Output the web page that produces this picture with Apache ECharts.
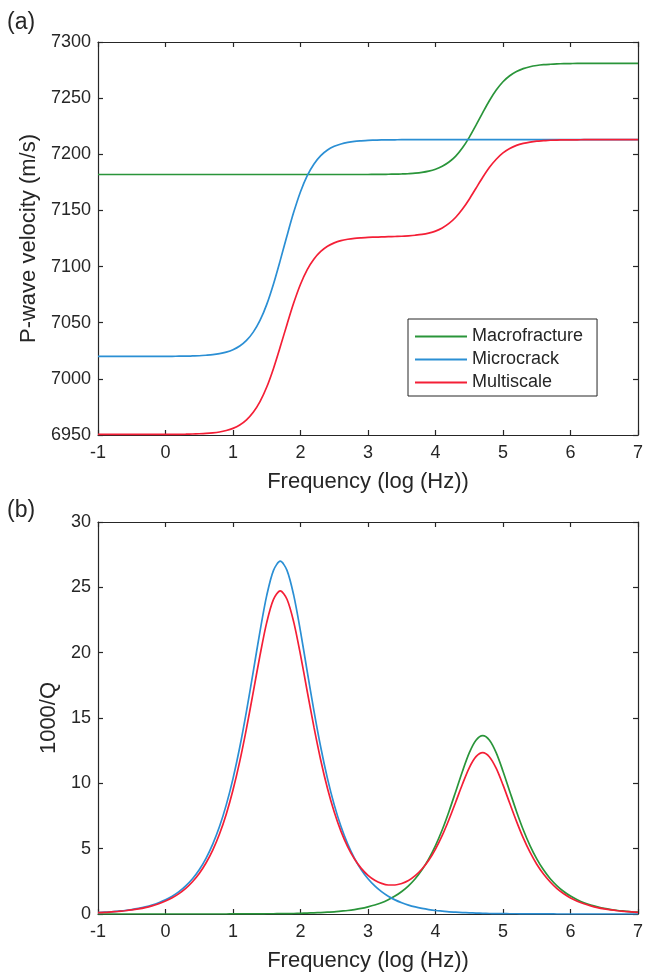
<!DOCTYPE html>
<html>
<head>
<meta charset="utf-8">
<script src="https://cdn.jsdelivr.net/npm/echarts@6/dist/echarts.min.js"></script>
<style>
  html, body { margin: 0; padding: 0; background: #fff; }
  #chart { width: 646px; height: 974px; }
</style>
</head>
<body>
<div id="chart"></div>
<script>
// Frequency samples, log10(Hz)
const freq = [
  -1.0, -0.9, -0.8, -0.7, -0.6, -0.5, -0.4, -0.3, -0.2, -0.1,
  0.0, 0.1, 0.2, 0.3, 0.4, 0.5, 0.6, 0.7, 0.8, 0.9,
  1.0, 1.1, 1.2, 1.3, 1.4, 1.5, 1.6, 1.7, 1.8, 1.9,
  2.0, 2.1, 2.2, 2.3, 2.4, 2.5, 2.6, 2.7, 2.8, 2.9,
  3.0, 3.1, 3.2, 3.3, 3.4, 3.5, 3.6, 3.7, 3.8, 3.9,
  4.0, 4.1, 4.2, 4.3, 4.4, 4.5, 4.6, 4.7, 4.8, 4.9,
  5.0, 5.1, 5.2, 5.3, 5.4, 5.5, 5.6, 5.7, 5.8, 5.9,
  6.0, 6.1, 6.2, 6.3, 6.4, 6.5, 6.6, 6.7, 6.8, 6.9,
  7.0
];

const seriesNames = ['Macrofracture', 'Microcrack', 'Multiscale'];

// (a) P-wave velocity, m/s
const velMacrofracture = [
  7182.0, 7182.0, 7182.0, 7182.0, 7182.0, 7182.0, 7182.0, 7182.0, 7182.0, 7182.0,
  7182.0, 7182.0, 7182.0, 7182.0, 7182.0, 7182.0, 7182.0, 7182.0, 7182.0, 7182.0,
  7182.0, 7182.0, 7182.0, 7182.0, 7182.0, 7182.0, 7182.0, 7182.0, 7182.0, 7182.0,
  7182.0, 7182.0, 7182.0, 7182.0, 7182.0, 7182.0, 7182.0, 7182.0, 7182.0, 7182.0,
  7182.0, 7182.1, 7182.1, 7182.2, 7182.3, 7182.5, 7182.8, 7183.2, 7183.9, 7185.0,
  7186.7, 7189.3, 7193.1, 7198.4, 7205.8, 7215.1, 7225.9, 7237.1, 7247.9, 7257.2,
  7264.6, 7269.9, 7273.7, 7276.3, 7278.0, 7279.1, 7279.8, 7280.2, 7280.5, 7280.7,
  7280.8, 7280.9, 7280.9, 7281.0, 7281.0, 7281.0, 7281.0, 7281.0, 7281.0, 7281.0,
  7281.0
];
const velMicrocrack = [
  7020.0, 7020.0, 7020.0, 7020.0, 7020.0, 7020.0, 7020.0, 7020.0, 7020.0, 7020.0,
  7020.1, 7020.1, 7020.2, 7020.2, 7020.4, 7020.6, 7021.0, 7021.5, 7022.4, 7023.8,
  7025.9, 7029.2, 7034.2, 7041.6, 7052.0, 7066.3, 7084.5, 7105.5, 7127.5, 7148.5,
  7166.7, 7181.0, 7191.4, 7198.8, 7203.8, 7207.1, 7209.2, 7210.6, 7211.5, 7212.0,
  7212.4, 7212.6, 7212.8, 7212.8, 7212.9, 7213.0, 7213.0, 7213.0, 7213.0, 7213.0,
  7213.0, 7213.0, 7213.0, 7213.0, 7213.0, 7213.0, 7213.0, 7213.0, 7213.0, 7213.0,
  7213.0, 7213.0, 7213.0, 7213.0, 7213.0, 7213.0, 7213.0, 7213.0, 7213.0, 7213.0,
  7213.0, 7213.0, 7213.0, 7213.0, 7213.0, 7213.0, 7213.0, 7213.0, 7213.0, 7213.0,
  7213.0
];
const velMultiscale = [
  6950.5, 6950.5, 6950.5, 6950.5, 6950.5, 6950.5, 6950.5, 6950.5, 6950.5, 6950.5,
  6950.6, 6950.6, 6950.6, 6950.7, 6950.9, 6951.1, 6951.4, 6951.9, 6952.7, 6954.0,
  6955.9, 6958.9, 6963.5, 6970.2, 6979.7, 6992.7, 7009.3, 7028.5, 7048.5, 7067.7,
  7084.3, 7097.3, 7106.8, 7113.5, 7118.1, 7121.1, 7123.1, 7124.3, 7125.1, 7125.6,
  7126.0, 7126.2, 7126.4, 7126.6, 7126.8, 7127.0, 7127.4, 7127.9, 7128.6, 7129.8,
  7131.6, 7134.4, 7138.4, 7143.9, 7151.2, 7160.0, 7169.8, 7179.5, 7188.4, 7195.6,
  7201.2, 7205.1, 7207.9, 7209.7, 7210.9, 7211.7, 7212.1, 7212.5, 7212.7, 7212.8,
  7212.9, 7212.9, 7213.0, 7213.0, 7213.0, 7213.0, 7213.0, 7213.0, 7213.0, 7213.0,
  7213.0
];

// (b) attenuation, 1000/Q
const qMacrofracture = [
  0.00, 0.00, 0.00, 0.00, 0.00, 0.00, 0.00, 0.00, 0.00, 0.00,
  0.00, 0.00, 0.00, 0.00, 0.00, 0.00, 0.00, 0.00, 0.00, 0.00,
  0.01, 0.01, 0.01, 0.01, 0.01, 0.02, 0.02, 0.03, 0.03, 0.04,
  0.05, 0.07, 0.09, 0.11, 0.14, 0.17, 0.22, 0.27, 0.34, 0.43,
  0.55, 0.69, 0.86, 1.09, 1.37, 1.72, 2.16, 2.70, 3.38, 4.22,
  5.24, 6.45, 7.85, 9.38, 10.93, 12.33, 13.30, 13.65, 13.30, 12.33,
  10.93, 9.38, 7.85, 6.45, 5.24, 4.22, 3.38, 2.70, 2.16, 1.72,
  1.37, 1.09, 0.86, 0.69, 0.55, 0.43, 0.34, 0.27, 0.22, 0.17,
  0.14
];
const qMicrocrack = [
  0.11, 0.14, 0.17, 0.22, 0.27, 0.34, 0.43, 0.54, 0.68, 0.86,
  1.08, 1.36, 1.71, 2.15, 2.70, 3.39, 4.26, 5.35, 6.69, 8.35,
  10.36, 12.76, 15.53, 18.55, 21.63, 24.38, 26.30, 27.00, 26.30, 24.38,
  21.63, 18.55, 15.53, 12.76, 10.36, 8.35, 6.69, 5.35, 4.26, 3.39,
  2.70, 2.15, 1.71, 1.36, 1.08, 0.86, 0.68, 0.54, 0.43, 0.34,
  0.27, 0.22, 0.17, 0.14, 0.11, 0.09, 0.07, 0.05, 0.04, 0.03,
  0.03, 0.02, 0.02, 0.01, 0.01, 0.01, 0.01, 0.01, 0.00, 0.00,
  0.00, 0.00, 0.00, 0.00, 0.00, 0.00, 0.00, 0.00, 0.00, 0.00,
  0.00
];
const qMultiscale = [
  0.10, 0.12, 0.16, 0.20, 0.25, 0.31, 0.39, 0.49, 0.62, 0.78,
  0.99, 1.24, 1.56, 1.96, 2.47, 3.10, 3.90, 4.89, 6.12, 7.64,
  9.49, 11.68, 14.21, 16.98, 19.79, 22.32, 24.08, 24.73, 24.09, 22.34,
  19.83, 17.03, 14.28, 11.77, 9.60, 7.80, 6.32, 5.14, 4.21, 3.49,
  2.96, 2.58, 2.34, 2.22, 2.22, 2.33, 2.56, 2.93, 3.44, 4.11,
  4.97, 6.01, 7.23, 8.57, 9.95, 11.19, 12.04, 12.35, 12.02, 11.14,
  9.88, 8.47, 7.09, 5.82, 4.73, 3.81, 3.06, 2.45, 1.94, 1.55,
  1.23, 0.98, 0.78, 0.62, 0.49, 0.39, 0.31, 0.25, 0.20, 0.16,
  0.12
];

// Axis ranges and tick steps
const xRange = { min: -1, max: 7, interval: 1 };
const velRange = { min: 6950, max: 7300, interval: 50 };
const qRange = { min: 0, max: 30, interval: 5 };

const FONT = '"Liberation Sans", Arial, Helvetica, sans-serif';
const INK = '#262626';
const COLORS = { Macrofracture: '#2a953a', Microcrack: '#2b8fd4', Multiscale: '#f41f36' };

function pairs(values) {
  return freq.map((f, i) => [f, values[i]]);
}

const plainNumber = (v) => String(v);

function xAxisFor(gridIndex, position, labelled, name) {
  return {
    type: 'value', gridIndex, position, ...xRange,
    name: labelled ? name : '',
    nameLocation: 'middle', nameGap: 36,
    nameTextStyle: { fontSize: 22, color: INK, fontFamily: FONT },
    axisLine: { show: true, onZero: false, lineStyle: { color: INK, width: 1.2 } },
    axisTick: { show: true, inside: true, length: 5, lineStyle: { color: INK, width: 1.2 } },
    axisLabel: { show: labelled, formatter: plainNumber, fontSize: 18, color: INK, fontFamily: FONT, margin: 9 },
    splitLine: { show: false }
  };
}

function yAxisFor(gridIndex, position, labelled, range, name, gap) {
  return {
    type: 'value', gridIndex, position, ...range,
    name: labelled ? name : '',
    nameLocation: 'middle', nameGap: gap,
    nameTextStyle: { fontSize: 22, color: INK, fontFamily: FONT },
    axisLine: { show: true, onZero: false, lineStyle: { color: INK, width: 1.2 } },
    axisTick: { show: true, inside: true, length: 5, lineStyle: { color: INK, width: 1.2 } },
    axisLabel: { show: labelled, formatter: plainNumber, fontSize: 18, color: INK, fontFamily: FONT, margin: 7 },
    splitLine: { show: false }
  };
}

function lineSeries(name, values, axisIndex) {
  return {
    name, type: 'line', data: pairs(values),
    xAxisIndex: axisIndex, yAxisIndex: axisIndex,
    symbol: 'none', smooth: 0.3,
    lineStyle: { color: COLORS[name], width: 1.7 },
    itemStyle: { color: COLORS[name] },
    z: 3
  };
}

const chart = echarts.init(document.getElementById('chart'), null, { renderer: 'canvas' });

chart.setOption({
  animation: false,
  backgroundColor: '#ffffff',
  textStyle: { fontFamily: FONT },
  grid: [
    { left: 98, top: 42, width: 542, height: 393 },
    { left: 98, top: 522, width: 542, height: 392 }
  ],
  xAxis: [
    xAxisFor(0, 'bottom', true, 'Frequency (log (Hz))'),
    xAxisFor(0, 'top', false, ''),
    xAxisFor(1, 'bottom', true, 'Frequency (log (Hz))'),
    xAxisFor(1, 'top', false, '')
  ],
  yAxis: [
    yAxisFor(0, 'left', true, velRange, 'P-wave velocity (m/s)', 50),
    yAxisFor(0, 'right', false, velRange, '', 0),
    yAxisFor(1, 'left', true, qRange, '1000/Q', 32),
    yAxisFor(1, 'right', false, qRange, '', 0)
  ],
  legend: {
    data: seriesNames,
    orient: 'vertical',
    left: 408, top: 319,
    icon: 'rect',
    itemWidth: 52, itemHeight: 2, itemGap: 4,
    padding: [8, 14, 4, 7],
    borderColor: INK, borderWidth: 1,
    backgroundColor: '#ffffff',
    selectedMode: false,
    textStyle: { fontSize: 18, lineHeight: 19, color: INK, fontFamily: FONT }
  },
  series: [
    lineSeries('Macrofracture', velMacrofracture, 0),
    lineSeries('Microcrack', velMicrocrack, 0),
    lineSeries('Multiscale', velMultiscale, 0),
    lineSeries('Macrofracture', qMacrofracture, 2),
    lineSeries('Microcrack', qMicrocrack, 2),
    lineSeries('Multiscale', qMultiscale, 2)
  ],
  graphic: [
    { type: 'text', left: 7, top: 11, style: { text: '(a)', fontSize: 23, fill: INK, fontFamily: FONT } },
    { type: 'text', left: 7, top: 499, style: { text: '(b)', fontSize: 23, fill: INK, fontFamily: FONT } }
  ]
});
</script>
</body>
</html>
